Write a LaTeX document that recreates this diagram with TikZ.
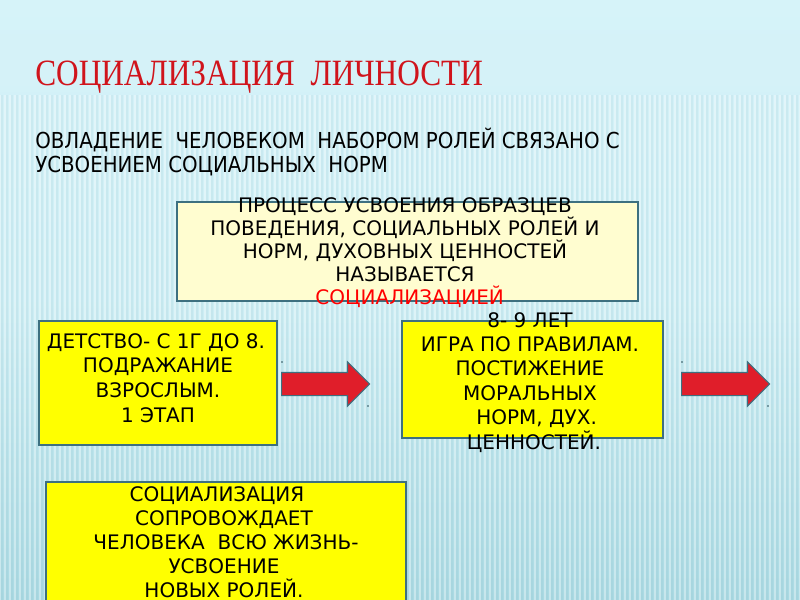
\documentclass[tikz,border=0pt]{standalone}
\usepackage{fontspec}
\setmainfont{Liberation Serif}
\newfontfamily\boxfont{DejaVu Sans}
\newfontfamily\narrowsans{DejaVu Sans Condensed}
\usetikzlibrary{shapes.arrows}
\definecolor{bgtop}{HTML}{D6F3F9}
\definecolor{bgbot}{HTML}{AADAE3}
\definecolor{boxline}{HTML}{3D7080}
\definecolor{brightyellow}{HTML}{FFFF00}
\definecolor{paleyellow}{HTML}{FFFDD0}
\definecolor{titlered}{HTML}{D0141C}
\definecolor{arrowred}{HTML}{E01E2A}
\newcommand{\lsh}[1]{\hspace*{#1}}
\tikzset{
  panel/.style={draw=boxline, line width=1.6pt, inner sep=0pt, anchor=north west},
  paneltext/.style={font=\boxfont\fontsize{15pt}{18pt}\selectfont, align=center, text=black, inner sep=0pt, anchor=north},
  redarrow/.style={single arrow, draw=boxline, line width=0.8pt, fill=arrowred,
    minimum height=66pt, inner xsep=0pt, inner ysep=8.25pt, single arrow head extend=7.9pt,
    single arrow tip angle=90, anchor=west},
  handle/.style={fill=boxline!70!black, circle, inner sep=0pt, minimum size=1.4pt}
}
\begin{document}
\begin{tikzpicture}[x=0.75pt,y=-0.75pt]
\useasboundingbox (0,0) rectangle (800,600);
% background
\shade[top color=bgtop, bottom color=bgbot, middle color=bgtop!80!bgbot] (0,0) rectangle (800,600);
\foreach \i in {0,5,...,800} {
  \draw[white, opacity=0.35, line width=1.1pt] (\i,95) -- (\i,600);
}
\foreach \i in {2,7,...,800} {
  \draw[bgbot!80!black, opacity=0.10, line width=0.8pt] (\i,95) -- (\i,600);
}
\fill[bgtop, opacity=0.6] (0,0) rectangle (800,92);
% title
\node[anchor=west, inner sep=0pt, text=titlered] (title) at (35,77)
  {\scalebox{0.87}[1.03]{\fontsize{27pt}{30pt}\selectfont СОЦИАЛИЗАЦИЯ\ \ ЛИЧНОСТИ}};
\node[anchor=west, inner sep=0pt, text=black, align=left] (sub) at (35,152)
  {\parbox{800pt}{\narrowsans\fontsize{16.5pt}{17.3pt}\selectfont ОВЛАДЕНИЕ\ \ ЧЕЛОВЕКОМ\ \ НАБОРОМ РОЛЕЙ СВЯЗАНО С\\ УСВОЕНИЕМ СОЦИАЛЬНЫХ\ \ НОРМ}};
% box 1
\node[panel, fill=paleyellow, minimum width=346pt, minimum height=74pt] (b1) at (176,201) {};
\node[paneltext, font=\boxfont\fontsize{15pt}{17.3pt}\selectfont] (t1) at (405,197) {ПРОЦЕСС УСВОЕНИЯ ОБРАЗЦЕВ\\ПОВЕДЕНИЯ, СОЦИАЛЬНЫХ РОЛЕЙ И\\НОРМ, ДУХОВНЫХ ЦЕННОСТЕЙ\lsh{12pt}\\НАЗЫВАЕТСЯ\\\lsh{7pt}\textcolor{red}{СОЦИАЛИЗАЦИЕЙ}};
% box 2
\node[panel, fill=brightyellow, minimum width=178.5pt, minimum height=93pt] (b2) at (38,320) {};
\node[paneltext, font=\boxfont\fontsize{15pt}{18.5pt}\selectfont] (t2) at (158,333) {ДЕТСТВО- С 1Г ДО 8.\lsh{3pt}\\ПОДРАЖАНИЕ\\ВЗРОСЛЫМ.\\1 ЭТАП};
% box 3
\node[panel, fill=brightyellow, minimum width=196pt, minimum height=88pt] (b3) at (401,320) {};
\node[paneltext, font=\boxfont\fontsize{15pt}{18.3pt}\selectfont] (t3) at (530,312) {8- 9 ЛЕТ\\ИГРА ПО ПРАВИЛАМ.\lsh{5pt}\\ПОСТИЖЕНИЕ\\МОРАЛЬНЫХ\\\lsh{10pt}НОРМ, ДУХ.\\\lsh{6pt}ЦЕННОСТЕЙ.};
% box 4
\node[panel, fill=brightyellow, minimum width=270pt, minimum height=92pt] (b4) at (45,481) {};
\node[paneltext, font=\boxfont\fontsize{15pt}{18pt}\selectfont] (t4) at (224,486) {СОЦИАЛИЗАЦИЯ\lsh{10.5pt}\\СОПРОВОЖДАЕТ\\\lsh{3pt}ЧЕЛОВЕКА\ \ ВСЮ ЖИЗНЬ-\\УСВОЕНИЕ\lsh{4.5pt}\\НОВЫХ РОЛЕЙ.};
% arrows
\node[redarrow] (a1) at (281,384) {};
\node[redarrow] (a2) at (681,384) {};
\node[handle] (h1) at (282,362) {};
\node[handle] (h2) at (368,406) {};
\node[handle] (h3) at (682,362) {};
\node[handle] (h4) at (768,406) {};
\end{tikzpicture}
\end{document}
